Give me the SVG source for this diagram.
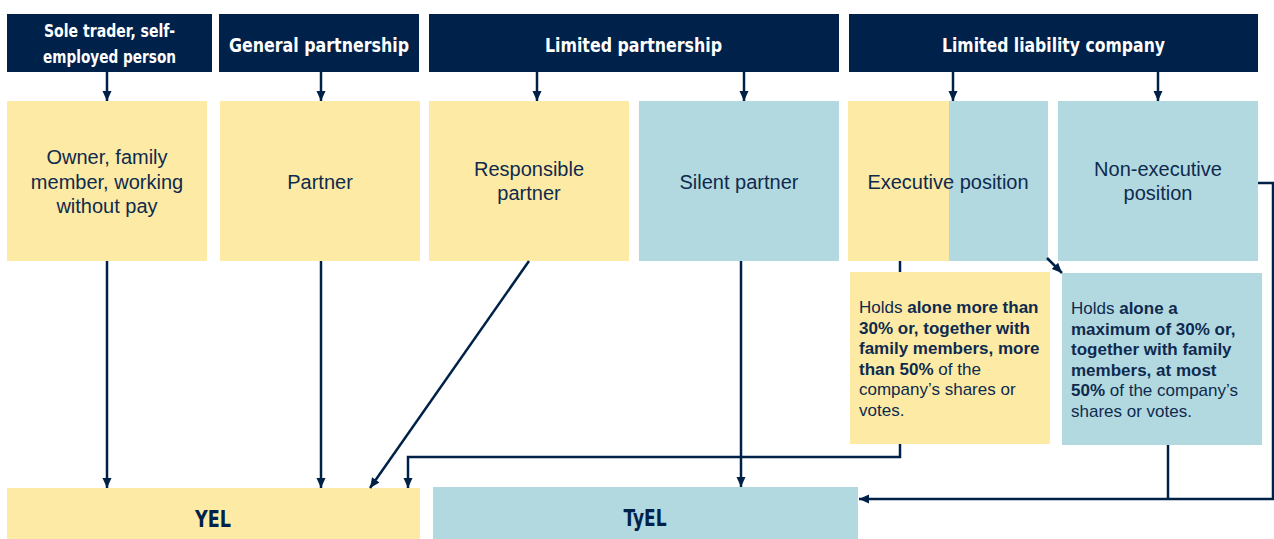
<svg xmlns="http://www.w3.org/2000/svg" width="1274" height="539" viewBox="0 0 1274 539">
  <defs>
    <marker id="arrow" markerUnits="userSpaceOnUse" markerWidth="12" markerHeight="12" viewBox="0 0 12 12" refX="11" refY="6" orient="auto">
      <path d="M1,1.5 L11,6 L1,10.5 Z" fill="#002147"/>
    </marker>
    <style>
      .head { fill: #00214a; }
      .yel { fill: #fdeaa4; }
      .blu { fill: #b3d9e0; }
      .htxt { font-family: "Liberation Sans Narrow", "DejaVu Sans Condensed", "Liberation Sans", sans-serif; font-weight: bold; fill: #ffffff; text-anchor: middle; }
      .btxt { font-family: "Liberation Sans", Arial, sans-serif; font-size: 20px; fill: #0e2a4e; text-anchor: middle; }
      .stxt { font-family: "Liberation Sans", Arial, sans-serif; font-size: 17px; fill: #0e2a4e; }
      .stxt tspan.b { font-weight: bold; }
      .ltxt { font-family: "Liberation Sans Narrow", "DejaVu Sans Condensed", "Liberation Sans", sans-serif; font-weight: bold; font-size: 23px; fill: #00214a; text-anchor: middle; }
      .conn { fill: none; stroke: #002147; stroke-width: 2.5; }
    </style>
  </defs>

  <!-- header row -->
  <g id="hdr-sole">
    <rect class="head" x="7" y="14" width="205" height="58"/>
    <text class="htxt" font-size="17" x="109.5" y="37" textLength="131" lengthAdjust="spacingAndGlyphs">Sole trader, self-</text>
    <text class="htxt" font-size="17" x="109.5" y="63" textLength="133" lengthAdjust="spacingAndGlyphs">employed person</text>
  </g>
  <g id="hdr-general">
    <rect class="head" x="219" y="14" width="200" height="58"/>
    <text class="htxt" font-size="20" x="319" y="52" textLength="180" lengthAdjust="spacingAndGlyphs">General partnership</text>
  </g>
  <g id="hdr-limited">
    <rect class="head" x="429" y="14" width="410" height="58"/>
    <text class="htxt" font-size="20" x="633.5" y="52" textLength="177" lengthAdjust="spacingAndGlyphs">Limited partnership</text>
  </g>
  <g id="hdr-llc">
    <rect class="head" x="849" y="14" width="409" height="58"/>
    <text class="htxt" font-size="20" x="1053.5" y="52" textLength="223" lengthAdjust="spacingAndGlyphs">Limited liability company</text>
  </g>

  <!-- role row -->
  <g id="role-owner">
    <rect class="yel" x="7" y="101" width="200" height="160"/>
    <text class="btxt" x="107" y="164">Owner, family</text>
    <text class="btxt" x="107" y="189">member, working</text>
    <text class="btxt" x="107" y="213">without pay</text>
  </g>
  <g id="role-partner">
    <rect class="yel" x="220" y="101" width="200" height="160"/>
    <text class="btxt" x="320" y="189">Partner</text>
  </g>
  <g id="role-responsible">
    <rect class="yel" x="429" y="101" width="200" height="160"/>
    <text class="btxt" x="529" y="176">Responsible</text>
    <text class="btxt" x="529" y="200">partner</text>
  </g>
  <g id="role-silent">
    <rect class="blu" x="639" y="101" width="200" height="160"/>
    <text class="btxt" x="739" y="189">Silent partner</text>
  </g>
  <g id="role-executive">
    <rect class="yel" x="848" y="101" width="101" height="160"/>
    <rect class="blu" x="949" y="101" width="99" height="160"/>
    <text class="btxt" x="948" y="189">Executive position</text>
  </g>
  <g id="role-nonexecutive">
    <rect class="blu" x="1058" y="101" width="200" height="160"/>
    <text class="btxt" x="1158" y="176">Non-executive</text>
    <text class="btxt" x="1158" y="200">position</text>
  </g>

  <!-- ownership conditions -->
  <g id="cond-over">
    <rect class="yel" x="850" y="272" width="200" height="172"/>
    <text class="stxt" x="859" y="313">Holds <tspan class="b">alone more than</tspan></text>
    <text class="stxt" x="859" y="333.5"><tspan class="b">30% or, together with</tspan></text>
    <text class="stxt" x="859" y="354"><tspan class="b">family members, more</tspan></text>
    <text class="stxt" x="859" y="374.5"><tspan class="b">than 50%</tspan> of the</text>
    <text class="stxt" x="859" y="395">company’s shares or</text>
    <text class="stxt" x="859" y="415.5">votes.</text>
  </g>
  <g id="cond-under">
    <rect class="blu" x="1062" y="273" width="200" height="172"/>
    <text class="stxt" x="1071" y="314">Holds <tspan class="b">alone a</tspan></text>
    <text class="stxt" x="1071" y="334.5"><tspan class="b">maximum of 30% or,</tspan></text>
    <text class="stxt" x="1071" y="355"><tspan class="b">together with family</tspan></text>
    <text class="stxt" x="1071" y="375.5"><tspan class="b">members, at most</tspan></text>
    <text class="stxt" x="1071" y="396"><tspan class="b">50%</tspan> of the company’s</text>
    <text class="stxt" x="1071" y="416.5">shares or votes.</text>
  </g>

  <!-- pension schemes -->
  <g id="scheme-yel">
    <rect class="yel" x="7" y="488" width="413" height="51"/>
    <text class="ltxt" x="213" y="527" textLength="36" lengthAdjust="spacingAndGlyphs">YEL</text>
  </g>
  <g id="scheme-tyel">
    <rect class="blu" x="433" y="487" width="425" height="52"/>
    <text class="ltxt" x="645" y="526" textLength="43" lengthAdjust="spacingAndGlyphs">TyEL</text>
  </g>

  <!-- connectors -->
  <g id="connectors">
    <path class="conn" d="M107,72 V101" marker-end="url(#arrow)"/>
    <path class="conn" d="M321,72 V101" marker-end="url(#arrow)"/>
    <path class="conn" d="M537,72 V101" marker-end="url(#arrow)"/>
    <path class="conn" d="M744,72 V101" marker-end="url(#arrow)"/>
    <path class="conn" d="M953,72 V101" marker-end="url(#arrow)"/>
    <path class="conn" d="M1158,72 V101" marker-end="url(#arrow)"/>

    <path class="conn" d="M107,261 V488" marker-end="url(#arrow)"/>
    <path class="conn" d="M321,261 V488" marker-end="url(#arrow)"/>
    <path class="conn" d="M529,261 L370,488" marker-end="url(#arrow)"/>
    <path class="conn" d="M741,261 V487" marker-end="url(#arrow)"/>

    <path class="conn" d="M900,261 V272"/>
    <path class="conn" d="M900,444 V457 H408 V488" marker-end="url(#arrow)"/>
    <path class="conn" d="M1047,258 L1062,273" marker-end="url(#arrow)"/>

    <path class="conn" d="M1168,445 V499"/>
    <path class="conn" d="M1258,183 H1273 V499 H859" marker-end="url(#arrow)"/>
  </g>
</svg>
